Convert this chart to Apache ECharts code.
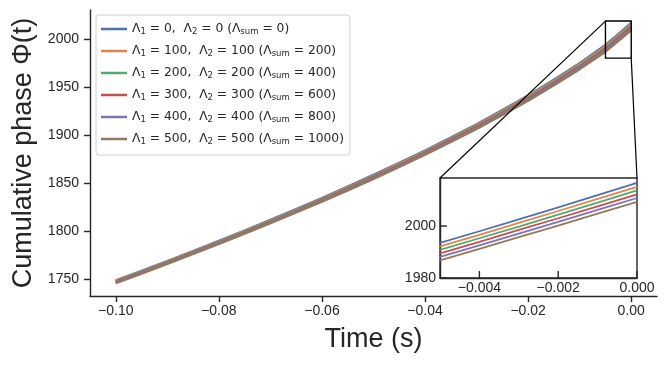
<!DOCTYPE html>
<html>
<head>
<meta charset="utf-8">
<script src="https://cdn.jsdelivr.net/npm/echarts@6/dist/echarts.min.js"></script>
<style>html,body{margin:0;padding:0;background:#fff}#c{width:667px;height:365px}</style>
</head>
<body>
<div id="c"></div>
<script>
// time (s)
const times = [-0.100,-0.095,-0.090,-0.085,-0.080,-0.075,-0.070,-0.065,-0.060,-0.055,-0.050,-0.045,-0.040,-0.035,-0.030,-0.025,-0.020,-0.015,-0.010,-0.005,-0.004,-0.003,-0.002,-0.001,0.000];
// cumulative phase for each (Λ1, Λ2)
const phaseL0   = [1749.0,1759.0,1769.2,1779.6,1790.1,1800.9,1811.9,1823.1,1834.6,1846.4,1858.6,1871.1,1884.0,1897.4,1911.3,1925.9,1941.2,1957.4,1974.7,1993.5,1998.0,2002.6,2007.2,2011.9,2016.6];
const phaseL100 = [1748.5,1758.5,1768.7,1779.0,1789.5,1800.3,1811.3,1822.4,1833.9,1845.7,1857.8,1870.3,1883.2,1896.5,1910.4,1924.9,1940.2,1956.3,1973.5,1992.2,1996.6,2001.2,2005.8,2010.5,2015.1];
const phaseL200 = [1748.0,1758.0,1768.1,1778.5,1788.9,1799.7,1810.6,1821.8,1833.2,1845.0,1857.1,1869.5,1882.3,1895.6,1909.4,1923.9,1939.1,1955.2,1972.3,1990.8,1995.3,1999.8,2004.4,2009.0,2013.7];
const phaseL300 = [1747.5,1757.4,1767.6,1777.9,1788.4,1799.1,1810.0,1821.1,1832.5,1844.2,1856.3,1868.7,1881.5,1894.8,1908.5,1923.0,1938.1,1954.1,1971.1,1989.5,1993.9,1998.5,2003.0,2007.6,2012.2];
const phaseL400 = [1747.0,1756.9,1767.0,1777.4,1787.8,1798.5,1809.4,1820.5,1831.8,1843.5,1855.6,1867.9,1880.6,1893.9,1907.6,1922.0,1937.0,1953.0,1969.9,1988.1,1992.6,1997.1,2001.6,2006.2,2010.8];
const phaseL500 = [1746.5,1756.4,1766.5,1776.8,1787.2,1797.9,1808.8,1819.8,1831.2,1842.8,1854.8,1867.1,1879.8,1893.0,1906.7,1921.0,1936.0,1951.9,1968.7,1986.8,1991.2,1995.7,2000.2,2004.8,2009.3];
const lambda1 = [0,100,200,300,400,500];
const lambda2 = [0,100,200,300,400,500];
const lambdaSum = [0,200,400,600,800,1000];
const seriesValues = [phaseL0,phaseL100,phaseL200,phaseL300,phaseL400,phaseL500];
const mainXTicks = [-0.10,-0.08,-0.06,-0.04,-0.02,0.00];
const mainYTicks = [1750,1800,1850,1900,1950,2000];
const insetXTicks = [-0.004,-0.002,0.000];
const insetYTicks = [1980,2000];
const insetXRange = [-0.005, 0.0];
const insetYRange = [1980, 2018.5];

const colors = ['#4c72b0','#dd8452','#55a868','#c44e52','#8172b3','#937860'];
const names = lambda1.map((l,i)=>'L'+i);
const INK = '#262626';
const TICKFONT = '"Liberation Sans", Arial, sans-serif';
const LEGFONT = '"DejaVu Sans", sans-serif';

function fmt(v, d){ const s = Math.abs(v).toFixed(d); return (v < -1e-12 ? '\u2212' : '') + s; }

const chart = echarts.init(document.getElementById('c'), null, {renderer:'canvas'});

const series = [];
seriesValues.forEach((vals,i)=>{
  const data = times.map((t,j)=>[t, vals[j]]);
  series.push({name:names[i], type:'line', xAxisIndex:0, yAxisIndex:0, data, showSymbol:false, symbol:'none',
    lineStyle:{color:colors[i], width:2.6}, itemStyle:{color:colors[i]}, z:2, animation:false});
  series.push({name:names[i], type:'line', xAxisIndex:1, yAxisIndex:1, data, showSymbol:false, symbol:'none', clip:true,
    lineStyle:{color:colors[i], width:1.8}, itemStyle:{color:colors[i]}, z:3, animation:false});
});

const option = {
  animation:false,
  backgroundColor:'#fff',
  grid:[
    {left:90, top:10, right:10, bottom:69, show:false},
    {left:440, top:178, width:197, height:100, show:true, backgroundColor:'transparent', borderColor:INK, borderWidth:1.4}
  ],
  xAxis:[
    {type:'value', gridIndex:0, position:'bottom', min:-0.105, max:0.005,
     axisLine:{show:true, onZero:false, lineStyle:{color:INK, width:1.4}},
     axisTick:{show:true, inside:false, length:6, lineStyle:{color:INK, width:1.4}, customValues:mainXTicks},
     axisLabel:{show:true, color:INK, fontSize:14, fontFamily:TICKFONT, margin:8, customValues:mainXTicks, formatter:v=>fmt(v,2)},
     splitLine:{show:false},
     name:'Time (s)', nameLocation:'middle', nameGap:30,
     nameTextStyle:{color:INK, fontSize:27, fontFamily:TICKFONT}},
    {type:'value', gridIndex:1, position:'bottom', min:insetXRange[0], max:insetXRange[1],
     axisLine:{show:true, onZero:false, lineStyle:{color:INK, width:1.4}},
     axisTick:{show:false},
     axisLabel:{show:true, color:INK, fontSize:14, fontFamily:TICKFONT, margin:3, customValues:insetXTicks, formatter:v=>fmt(v,3)},
     splitLine:{show:false}}
  ],
  yAxis:[
    {type:'value', gridIndex:0, position:'left', min:1733, max:2030,
     axisLine:{show:true, onZero:false, lineStyle:{color:INK, width:1.4}},
     axisTick:{show:true, inside:false, length:6, lineStyle:{color:INK, width:1.4}, customValues:mainYTicks},
     axisLabel:{show:true, color:INK, fontSize:14, fontFamily:TICKFONT, margin:11, customValues:mainYTicks, formatter:v=>String(v)},
     splitLine:{show:false},
     name:'Cumulative phase \u03A6(t)', nameLocation:'middle', nameGap:40, nameRotate:90,
     nameTextStyle:{color:INK, fontSize:27, fontFamily:TICKFONT}},
    {type:'value', gridIndex:1, position:'left', min:insetYRange[0], max:insetYRange[1],
     axisLine:{show:true, onZero:false, lineStyle:{color:INK, width:1.4}},
     axisTick:{show:false},
     axisLabel:{show:true, color:INK, fontSize:14, fontFamily:TICKFONT, margin:4, customValues:insetYTicks, formatter:v=>String(v)},
     splitLine:{show:false}}
  ],
  legend:{
    show:true, orient:'vertical', left:96, top:15,
    data:names.map((n,i)=>({name:n, icon:'rect', itemStyle:{color:colors[i]}})),
    itemWidth:26, itemHeight:2.5, itemGap:8,
    padding:[7,6,9,5],
    backgroundColor:'rgba(255,255,255,0.85)', borderColor:'#d0d0d0', borderWidth:1, borderRadius:3,
    selectedMode:false,
    textStyle:{color:INK, fontFamily:LEGFONT, fontSize:12.3,
      rich:{
        n:{fontSize:12.3, fontFamily:LEGFONT, color:INK, lineHeight:14},
        s:{fontSize:8.5, fontFamily:LEGFONT, color:INK, lineHeight:14, verticalAlign:'bottom', padding:[5,0,0,0]}
      }},
    formatter:function(name){
      const i = names.indexOf(name);
      return '{n|\u039B}{s|1}{n| = ' + lambda1[i] + ',  \u039B}{s|2}{n| = ' + lambda2[i] +
             ' (\u039B}{s|sum}{n| = ' + lambdaSum[i] + ')}';
    },
    z:20
  },
  series
};
chart.setOption(option);

// zoom rectangle, connector lines and inward inset ticks, positioned through the axes
const r0 = chart.convertToPixel({gridIndex:0}, [insetXRange[0], insetYRange[1]]);
const r1 = chart.convertToPixel({gridIndex:0}, [insetXRange[1], insetYRange[0]]);
const i0 = chart.convertToPixel({gridIndex:1}, [insetXRange[0], insetYRange[1]]);
const i1 = chart.convertToPixel({gridIndex:1}, [insetXRange[1], insetYRange[1]]);
const TICKLEN = 7;
const graphics = [
  {type:'rect', shape:{x:r0[0], y:r0[1], width:r1[0]-r0[0], height:r1[1]-r0[1]}, style:{fill:null, stroke:'#000', lineWidth:1.4}, z:15},
  {type:'line', shape:{x1:r0[0], y1:r0[1], x2:i0[0], y2:i0[1]}, style:{stroke:'#000', lineWidth:1.2}, z:15},
  {type:'line', shape:{x1:r1[0], y1:r1[1], x2:i1[0], y2:i1[1]}, style:{stroke:'#000', lineWidth:1.2}, z:15}
];
insetXTicks.forEach(v=>{
  const p = chart.convertToPixel({gridIndex:1}, [v, insetYRange[0]]);
  graphics.push({type:'rect', shape:{x:p[0]-0.7, y:p[1]-TICKLEN, width:1.4, height:TICKLEN}, style:{fill:INK, stroke:null}, z:30});
});
insetYTicks.forEach(v=>{
  const p = chart.convertToPixel({gridIndex:1}, [insetXRange[0], v]);
  graphics.push({type:'rect', shape:{x:p[0], y:p[1]-0.7, width:TICKLEN, height:1.4}, style:{fill:INK, stroke:null}, z:30});
});
chart.setOption({graphic:{elements:graphics}});
</script>
</body>
</html>
